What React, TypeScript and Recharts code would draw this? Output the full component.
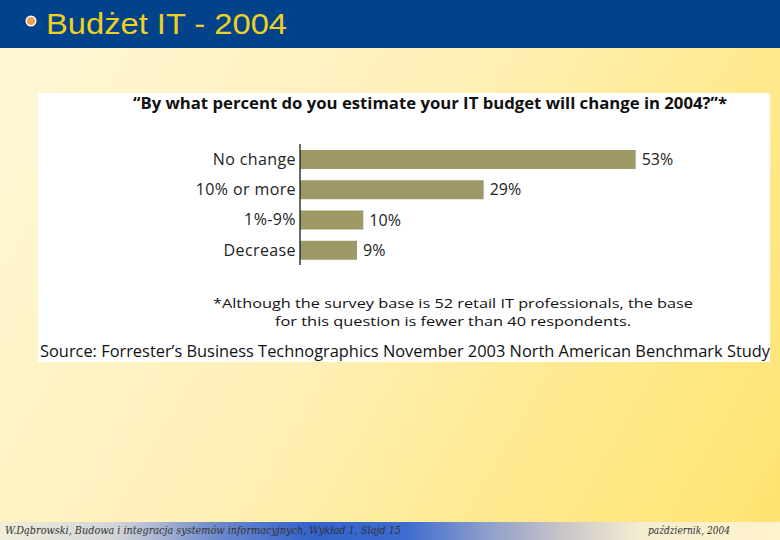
import React from 'react';
import { BarChart, Bar, XAxis, YAxis, LabelList } from 'recharts';

const categories = ['No change', '10% or more', '1%-9%', 'Decrease'];
const percents = [53, 29, 10, 9];
const headerTitle = 'Budżet IT - 2004';
const chartTitle = '\u201CBy what percent do you estimate your IT budget will change in 2004?\u201D*';
const noteLine1 = '*Although the survey base is 52 retail IT professionals, the base';
const noteLine2 = 'for this question is fewer than 40 respondents.';
const sourceText = 'Source: Forrester\u2019s Business Technographics November 2003 North American Benchmark Study';
const footerLeft = 'W.Dąbrowski, Budowa i integracja systemów informacyjnych, Wykład 1, Slajd 15';
const footerRight = 'październik, 2004';

const data = categories.map((name, i) => ({ name, value: percents[i] }));

const FONT = '"Open Sans", "DejaVu Sans", sans-serif';

export default function App() {
  return (
    <div style={{ position: 'absolute', left: 0, top: 0, width: 780, height: 540, overflow: 'hidden',
      background: 'linear-gradient(120deg, #FFF7D8 0%, #FFF0B8 45%, #FFE98C 75%, #FFE370 100%)' }}>
      {/* header */}
      <div style={{ position: 'absolute', left: 0, top: 0, width: 780, height: 48, background: '#00438A' }} />
      {/* white panel */}
      <div style={{ position: 'absolute', left: 38, top: 93, width: 732, height: 269, background: '#FFFFFF' }} />
      {/* footer band */}
      <div style={{ position: 'absolute', left: 0, top: 522, width: 780, height: 18,
        background: 'linear-gradient(90deg, #F2EEDA 0%, #D2D4D8 15%, #6C88CC 28%, #3263CC 40%, #3D6BCF 52%, #8C9CCC 62%, #C8C4C8 72%, #F5EDD0 82%, #FFF3CC 100%)' }} />

      <div style={{ position: 'absolute', left: 0, top: 0 }}>
        <BarChart width={780} height={540} data={data} layout="vertical"
          margin={{ top: 144, bottom: 275, left: 200, right: 100 }} barCategoryGap={0}>
          <XAxis type="number" domain={[0, 60]} hide />
          <YAxis type="category" dataKey="name" width={100} tickLine={false} tickSize={0} tickMargin={4}
            axisLine={{ stroke: '#1A1A1A', strokeWidth: 1.3 }}
            tick={{ fontSize: 16, fill: '#222222', fontFamily: FONT, letterSpacing: 0.4 }} interval={0} />
          <Bar dataKey="value" fill="#9C9967" barSize={19} isAnimationActive={false}>
            <LabelList dataKey="value" position="right" offset={6} formatter={(v: any) => `${v}%`}
              style={{ fontSize: 16, fill: '#222222', fontFamily: FONT }} />
          </Bar>
        </BarChart>
      </div>

      <svg width={780} height={540} style={{ position: 'absolute', left: 0, top: 0, pointerEvents: 'none' }}>
        <circle cx={31} cy={21} r={5.5} fill="#FFFFFF" />
        <circle cx={31} cy={21} r={4} fill="#F0A04A" />
        <text x={46} y={34} fontFamily='"Liberation Sans", Arial, sans-serif' fontSize={30} fill="#F2D020"
          textLength={241} lengthAdjust="spacingAndGlyphs">{headerTitle}</text>

        <text x={133} y={109} fontFamily={FONT} fontWeight={700} fontSize={16} fill="#111111"
          textLength={594} lengthAdjust="spacingAndGlyphs">{chartTitle}</text>

        <text x={213} y={308} fontFamily={FONT} fontSize={13} fill="#111111"
          textLength={480} lengthAdjust="spacingAndGlyphs">{noteLine1}</text>
        <text x={275} y={326} fontFamily={FONT} fontSize={13} fill="#111111"
          textLength={356} lengthAdjust="spacingAndGlyphs">{noteLine2}</text>
        <text x={40} y={357} fontFamily={FONT} fontSize={16} fill="#111111"
          textLength={730} lengthAdjust="spacingAndGlyphs">{sourceText}</text>

        <text x={5} y={534} fontFamily='"DejaVu Serif", "Liberation Serif", serif' fontStyle="italic" fontSize={11} fill="#333333"
          textLength={396} lengthAdjust="spacingAndGlyphs">{footerLeft}</text>
        <text x={648} y={534} fontFamily='"DejaVu Serif", "Liberation Serif", serif' fontStyle="italic" fontSize={11} fill="#333333"
          textLength={82} lengthAdjust="spacingAndGlyphs">{footerRight}</text>
      </svg>
    </div>
  );
}
